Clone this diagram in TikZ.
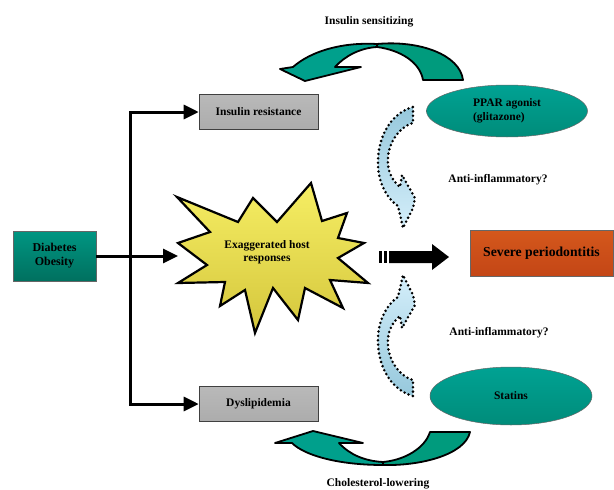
\documentclass[tikz,border=0pt]{standalone}
\usepackage{fontspec}
\setmainfont{Liberation Serif}
\usetikzlibrary{arrows.meta,shapes.geometric}
\definecolor{tealA}{RGB}{0,160,140}
\definecolor{tealB}{RGB}{0,155,125}
\definecolor{tealTop}{RGB}{0,150,130}
\definecolor{tealBot}{RGB}{0,112,95}
\definecolor{ellTop}{RGB}{0,162,147}
\definecolor{ellBot}{RGB}{0,140,122}
\definecolor{starTop}{RGB}{246,238,100}
\definecolor{starBot}{RGB}{212,198,60}
\definecolor{orTop}{RGB}{212,88,28}
\definecolor{orMid}{RGB}{234,112,40}
\definecolor{orBot}{RGB}{196,70,22}
\definecolor{blueDark}{RGB}{150,200,220}
\definecolor{blueLight}{RGB}{212,238,250}
\begin{document}
\begin{tikzpicture}[x=1pt,y=-1pt,
  txt/.style={font=\bfseries\fontsize{11.5}{13.5}\selectfont, align=center, inner sep=0pt},
  graybox/.style={txt, draw=gray!50!black, line width=0.6pt, top color=gray!55, middle color=white, bottom color=gray!65, minimum width=119pt, minimum height=35pt},
  conn/.style={line width=3pt, line join=miter, -{Triangle[length=15pt,width=14pt]}},
  tealarrow/.style={draw=black, line width=1.8pt, line join=round},
  dotarrow/.style={draw=black, line width=2.8pt, dash pattern=on 0pt off 4.4pt, line cap=round, line join=round},
  ellnode/.style={txt, ellipse, draw=black!60, line width=0.5pt, top color=ellTop, bottom color=ellBot}
]
\useasboundingbox (0,0) rectangle (614,490);

% --- nodes ---
\node[txt, font=\bfseries\fontsize{12}{14}\selectfont, draw=black!60, line width=0.6pt, top color=tealTop, bottom color=tealBot,
      minimum width=83pt, minimum height=50pt] (dia) at (54.5,256) {Diabetes\\Obesity};
\node[graybox] (ir) at (258.5,112) {Insulin resistance};
\node[graybox] (dys) at (258.5,404) {Dyslipidemia};
\node[txt, font=\bfseries\fontsize{13.7}{16}\selectfont, draw=black!60, line width=0.6pt,
      top color=orTop, middle color=orMid, bottom color=orBot,
      minimum width=143pt, minimum height=46pt] (sev) at (541.5,253) {Severe periodontitis};
\node[ellnode, minimum width=161pt, minimum height=52pt, align=left] (ppar) at (507,111) {PPAR agonist\\(glitazone)};
\node[ellnode, minimum width=162pt, minimum height=58pt] (stat) at (511,396) {Statins};

% --- star ---
\draw[line width=2.2pt, line join=miter, top color=starTop, bottom color=starBot]
  (177,197) -- (238,222) -- (253,198) -- (277,222) -- (311,183) -- (322,221) -- (347,213)
  -- (338,238) -- (364,243) -- (338,258) -- (368,283) -- (330,280) -- (343,308)
  -- (305,288) -- (298,320) -- (273,288) -- (255,333) -- (245,290) -- (220,306)
  -- (225,282) -- (178,283) -- (207,265) -- (178,243) -- (210,232) -- cycle;
\node[txt] (star) at (267,252) {Exaggerated host\\responses};

% --- connectors ---
\coordinate (starL) at (178,256);
\coordinate (vm) at (130,256);
\coordinate (vt) at (130,112);
\coordinate (vb) at (130,404);
\draw[conn] (dia.east) -- (starL);
\draw[conn] (vm) -- (vt) -- (ir.west);
\draw[conn] (vm) -- (vb) -- (dys.west);

% --- block arrow ---
\fill (379,251) rectangle (382,263);
\fill (384,251) rectangle (387,263);
\fill (389,251) -- (432,251) -- (432,244) -- (449,257) -- (432,270) -- (432,263) -- (389,263) -- cycle;

% --- top curved teal arrow ---
\draw[tealarrow, fill=tealB] (377,44) .. controls (420,40) and (460,55) .. (463,80)
  -- (423,80) .. controls (420,62) and (400,50) .. (377,47) -- cycle;
\draw[tealarrow, fill=tealA] (377,44) .. controls (340,42) and (310,52) .. (293,67)
  -- (280,69) -- (305,81) -- (361,67) -- (335,67) .. controls (345,56) and (360,48) .. (377,47) -- cycle;
\node[txt] (ins) at (369,22) {Insulin sensitizing};

% --- bottom curved teal arrow ---
\draw[tealarrow, fill=tealB] (383,465) .. controls (420,466) and (465,455) .. (470,432)
  -- (430,432) .. controls (425,448) and (405,460) .. (383,462) -- cycle;
\draw[tealarrow, fill=tealA] (383,465) .. controls (340,465) and (305,456) .. (292,443)
  -- (275,443) -- (313,431) -- (363,443) -- (339,443) .. controls (350,455) and (365,461) .. (383,462) -- cycle;
\node[txt, anchor=base] (chol) at (378,486) {Cholesterol-lowering};

% --- dotted light-blue arrows ---
\draw[dotarrow, top color=blueDark, bottom color=blueLight]
  (413,107) -- (413,123) .. controls (396,128) and (384,150) .. (389,170)
  .. controls (391,178) and (396,184) .. (400,187) -- (402,175) -- (415,198) -- (413,208)
  -- (403,228) -- (398,206) .. controls (386,198) and (377,180) .. (378,160)
  .. controls (379,132) and (394,112) .. (413,107) -- cycle;
\draw[dotarrow, top color=blueLight, bottom color=blueDark]
  (413,396) -- (413,380) .. controls (396,375) and (384,353) .. (389,333)
  .. controls (391,325) and (396,319) .. (400,316) -- (402,328) -- (415,305) -- (413,295)
  -- (403,275) -- (398,297) .. controls (386,305) and (377,323) .. (378,343)
  .. controls (379,371) and (394,391) .. (413,396) -- cycle;
\node[txt] (ai1) at (498,180) {Anti-inflammatory?};
\node[txt] (ai2) at (499,333) {Anti-inflammatory?};
\end{tikzpicture}
\end{document}
